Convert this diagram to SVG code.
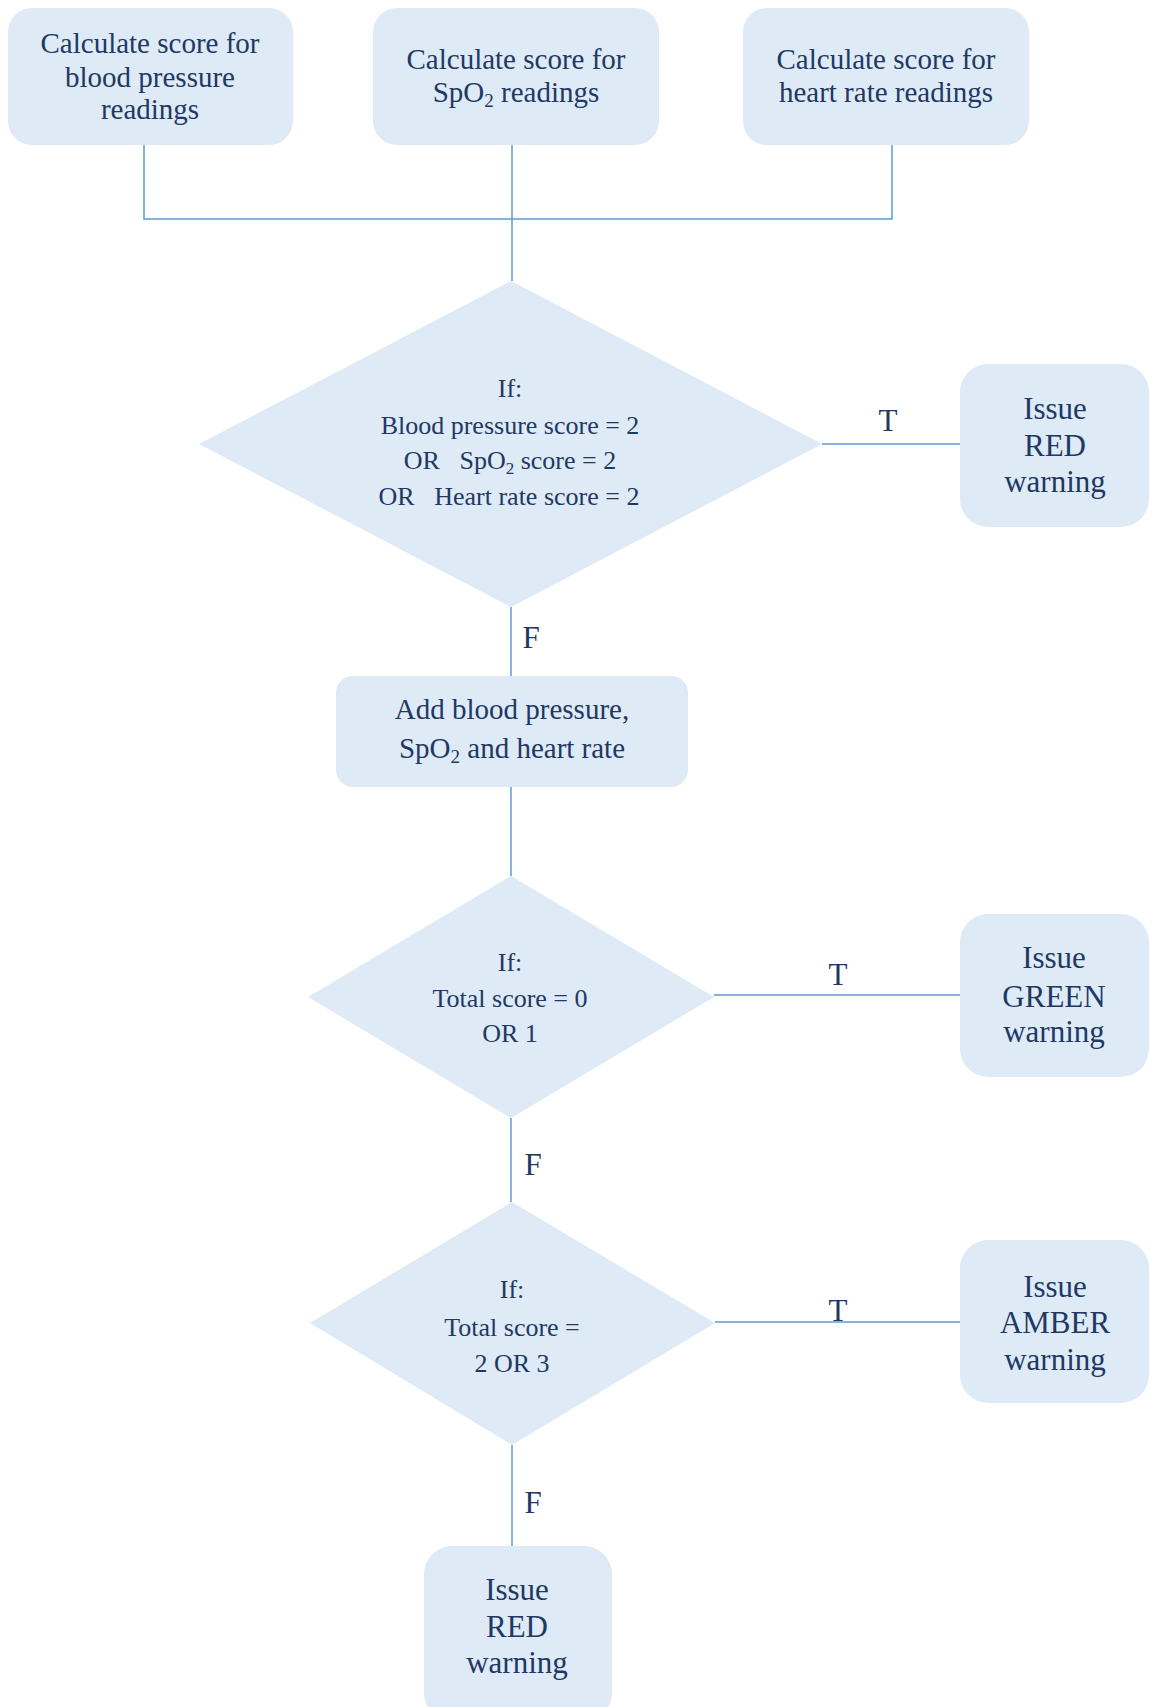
<svg xmlns="http://www.w3.org/2000/svg" width="1153" height="1707" viewBox="0 0 1153 1707">
<style>
.box{fill:#deeaf6;stroke:none}
.t{font-family:"Liberation Serif","Times New Roman",serif;fill:#1f3864;text-anchor:middle}
.s29{font-size:29px}
.s26{font-size:26px}
.s31{font-size:31px}
.lbl{font-family:"Liberation Serif","Times New Roman",serif;fill:#1f3864;font-size:31px;text-anchor:middle}
.ln{stroke:#5b9bd5;stroke-width:1.5;fill:none}
</style>
<rect width="1153" height="1707" fill="#ffffff"/>
<g id="connectors">
<path class="ln" d="M144,144 V219 H892 V144"/>
<path class="ln" d="M512,144 V281"/>
<path class="ln" d="M822,444 H960"/>
<path class="ln" d="M511,607 V676"/>
<path class="ln" d="M511,787 V876"/>
<path class="ln" d="M714,995 H960"/>
<path class="ln" d="M511,1118 V1202"/>
<path class="ln" d="M715,1322 H960"/>
<path class="ln" d="M512,1445 V1546"/>
<text class="lbl" x="888" y="431">T</text>
<text class="lbl" x="531" y="648">F</text>
<text class="lbl" x="838" y="985">T</text>
<text class="lbl" x="533" y="1175">F</text>
<text class="lbl" x="838" y="1321">T</text>
<text class="lbl" x="533" y="1513">F</text>
</g>
<g id="calc-bp">
<rect class="box" x="8" y="8" width="285" height="137" rx="24"/>
<text class="t s29" x="150" y="53">Calculate score for</text>
<text class="t s29" x="150" y="87">blood pressure</text>
<text class="t s29" x="150" y="119">readings</text>
</g>
<g id="calc-spo2">
<rect class="box" x="373" y="8" width="286" height="137" rx="24"/>
<text class="t s29" x="516" y="69">Calculate score for</text>
<text class="t s29" x="516" y="102">SpO<tspan font-size="19" dy="5">2</tspan><tspan dy="-5"> readings</tspan></text>
</g>
<g id="calc-hr">
<rect class="box" x="743" y="8" width="286" height="137" rx="24"/>
<text class="t s29" x="886" y="69">Calculate score for</text>
<text class="t s29" x="886" y="102">heart rate readings</text>
</g>
<g id="decision-1">
<polygon class="box" points="511,281 822,444 511,607 199,444"/>
<text class="t s26" x="510" y="397">If:</text>
<text class="t s26" x="510" y="434">Blood pressure score = 2</text>
<text class="t s26" x="510" y="469" xml:space="preserve">OR   SpO<tspan font-size="17" dy="5">2</tspan><tspan dy="-5"> score = 2</tspan></text>
<text class="t s26" x="509" y="505" xml:space="preserve">OR   Heart rate score = 2</text>
</g>
<g id="red-1">
<rect class="box" x="960" y="364" width="189" height="163" rx="28"/>
<text class="t s31" x="1055" y="419">Issue</text>
<text class="t s31" x="1055" y="456">RED</text>
<text class="t s31" x="1055" y="492">warning</text>
</g>
<g id="add-scores">
<rect class="box" x="336" y="676" width="352" height="111" rx="17"/>
<text class="t s29" x="512" y="719">Add blood pressure,</text>
<text class="t s29" x="512" y="758">SpO<tspan font-size="19" dy="5">2</tspan><tspan dy="-5"> and heart rate</tspan></text>
</g>
<g id="decision-2">
<polygon class="box" points="511,876 714,997 511,1118 308,997"/>
<text class="t s26" x="510" y="971">If:</text>
<text class="t s26" x="510" y="1007">Total score = 0</text>
<text class="t s26" x="510" y="1042">OR 1</text>
</g>
<g id="green">
<rect class="box" x="960" y="914" width="189" height="163" rx="28"/>
<text class="t s31" x="1054" y="968">Issue</text>
<text class="t s31" x="1054" y="1007">GREEN</text>
<text class="t s31" x="1054" y="1042">warning</text>
</g>
<g id="decision-3">
<polygon class="box" points="512,1202 715,1323 512,1445 310,1323"/>
<text class="t s26" x="512" y="1298">If:</text>
<text class="t s26" x="512" y="1336">Total score =</text>
<text class="t s26" x="512" y="1372">2 OR 3</text>
</g>
<g id="amber">
<rect class="box" x="960" y="1240" width="189" height="163" rx="28"/>
<text class="t s31" x="1055" y="1297">Issue</text>
<text class="t s31" x="1055" y="1333">AMBER</text>
<text class="t s31" x="1055" y="1370">warning</text>
</g>
<g id="red-2">
<rect class="box" x="424" y="1546" width="188" height="175" rx="28"/>
<text class="t s31" x="517" y="1600">Issue</text>
<text class="t s31" x="517" y="1637">RED</text>
<text class="t s31" x="517" y="1673">warning</text>
</g>
</svg>
